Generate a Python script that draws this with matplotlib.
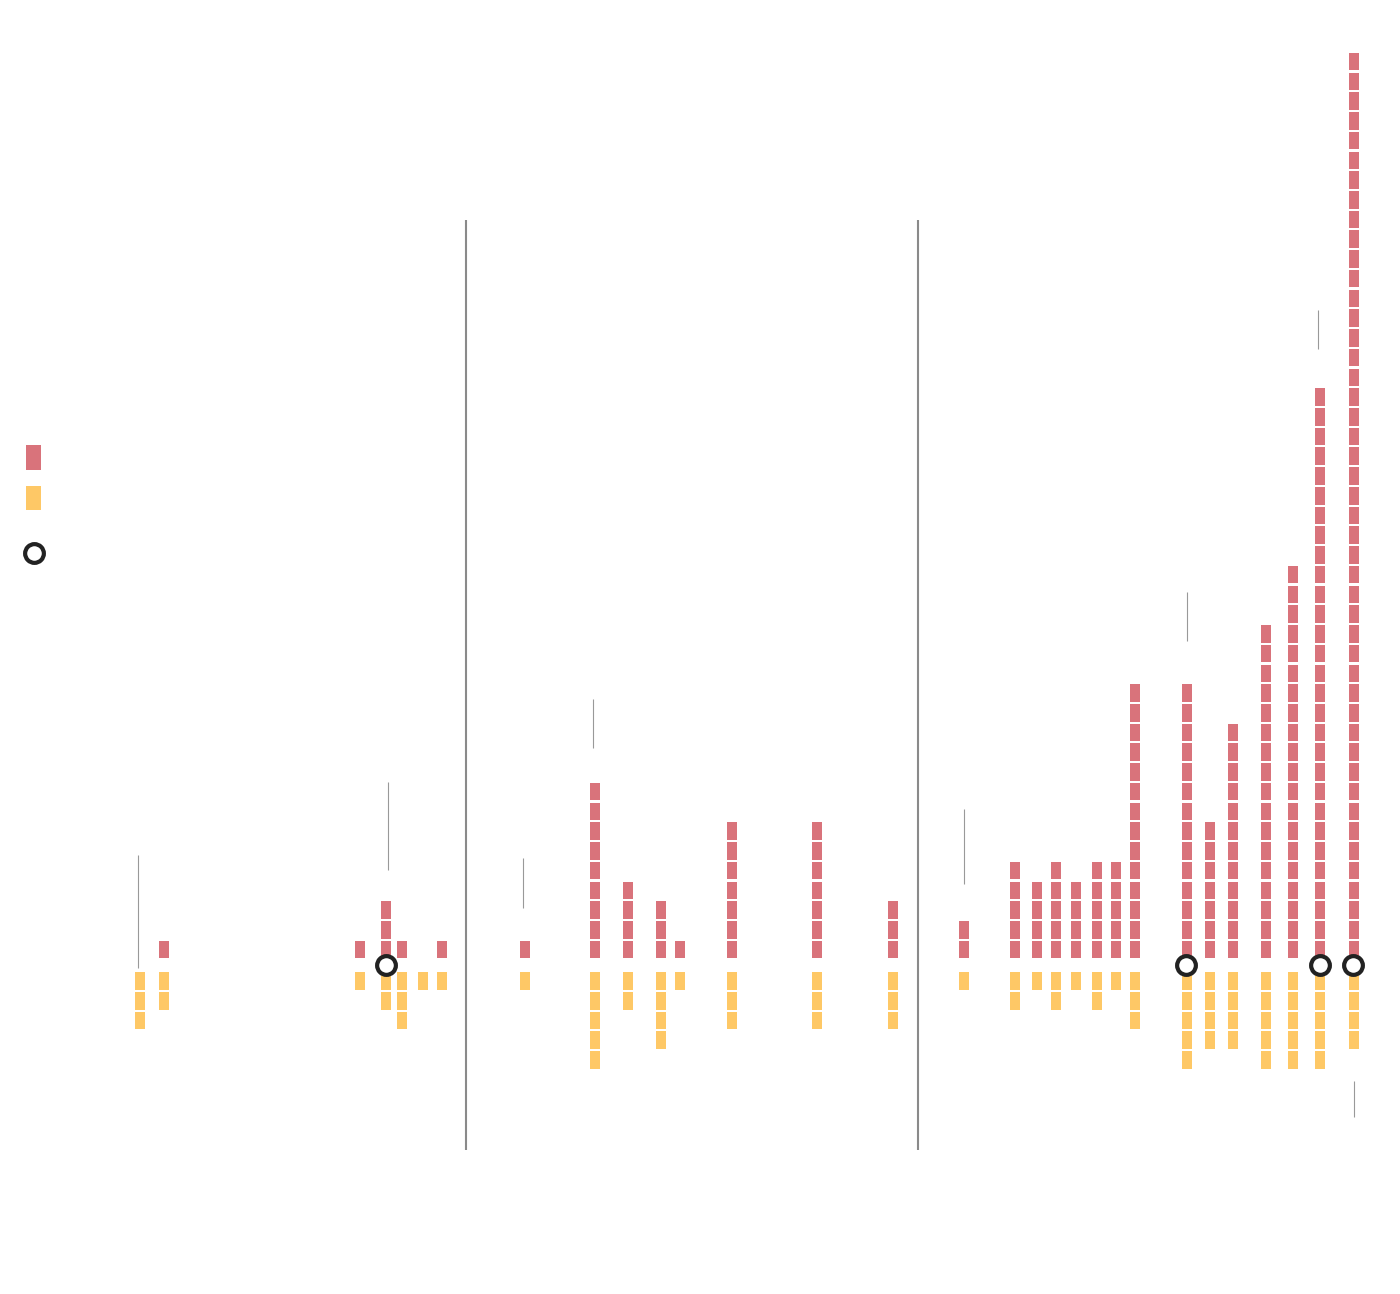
import numpy as np
import matplotlib
matplotlib.use('Agg')
import matplotlib.pyplot as plt

# column positions along the timeline (horizontal position on the page)
pos = [140, 164, 360, 386, 402, 423, 442,
       525, 595, 628, 661, 680, 732, 817, 893,
       964, 1015, 1037, 1056, 1076, 1097, 1116, 1135,
       1187, 1210, 1233, 1266, 1293, 1320, 1354]
red_n = [0, 1, 1, 3, 1, 0, 1,
         1, 9, 4, 3, 1, 7, 7, 3,
         2, 5, 4, 5, 4, 5, 5, 14,
         14, 7, 12, 17, 20, 29, 46]
yel_n = [3, 2, 1, 2, 3, 1, 1,
         1, 5, 2, 4, 1, 3, 3, 3,
         1, 2, 1, 2, 1, 2, 1, 3,
         5, 4, 4, 5, 5, 5, 4]
circle_pos = [386, 1186, 1320, 1353]
dividers = [466, 918]
# leader lines: (x, top, bottom) in cell units
leaders = [(138, 5.6, -0.15), (388, 9.3, 4.8), (523, 5.4, 2.9),
           (593, 13.5, 11.0), (964, 7.9, 4.1), (1187, 18.9, 16.4),
           (1318, 33.2, 31.2), (1354, -5.9, -7.7)]

RED = '#d9737b'
YEL = '#fec866'
PITCH = 19.73          # px per cell
BASE = 965             # pixel row of the baseline
W, H = 1400, 1294

fig = plt.figure(figsize=(14, 12.94), dpi=100)
ax = fig.add_axes([0, 0, 1, 1])
ax.set_xlim(0, W)
ax.set_ylim(-(H - BASE) / PITCH, BASE / PITCH)
ax.axis('off')

def v(py):
    return (BASE - py) / PITCH

xs_r, bs_r, xs_y, bs_y = [], [], [], []
for x, r, yy in zip(pos, red_n, yel_n):
    for k in range(r):
        xs_r.append(x)
        bs_r.append(0.34 + k)
    for k in range(yy):
        xs_y.append(x)
        bs_y.append(-0.37 - k - 0.89)
ax.bar(xs_r, 0.89, bottom=bs_r, width=10.5, color=RED, linewidth=0)
ax.bar(xs_y, 0.89, bottom=bs_y, width=10.5, color=YEL, linewidth=0)

for d in dividers:
    ax.vlines(d, v(1150), v(220), color='#8a8a8a', lw=1.5)
for x, t, b in leaders:
    ax.vlines(x, b, t, color='#999999', lw=0.8)

ax.plot(circle_pos, [0] * len(circle_pos), 'o', ms=13.5, mew=3.0,
        mfc='white', mec='#222222', zorder=5)

# legend keys
ax.bar(33.5, v(445) - v(470), bottom=v(470), width=15, color=RED, linewidth=0)
ax.bar(33.5, v(486) - v(510), bottom=v(510), width=15, color=YEL, linewidth=0)
ax.plot([34], [v(553)], 'o', ms=13.5, mew=3.0, mfc='white', mec='#222222')

fig.savefig('out.png', dpi=100, facecolor='white')
